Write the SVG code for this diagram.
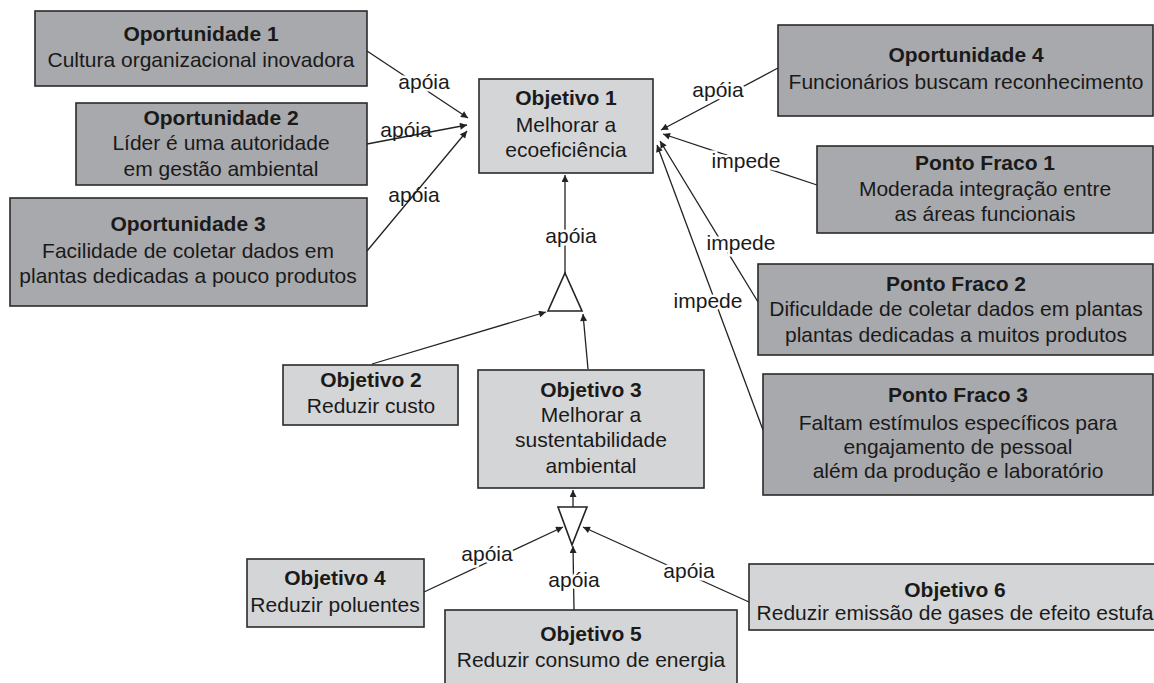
<svg xmlns="http://www.w3.org/2000/svg" width="1154" height="683" viewBox="0 0 1154 683">
<style>
.dk{fill:#a8a9ac;stroke:#2a2a2a;stroke-width:1.6}
.lt{fill:#d4d5d7;stroke:#2a2a2a;stroke-width:1.6}
text{font-family:"Liberation Sans",Arial,sans-serif;font-size:21px;fill:#1a1a1a;text-anchor:middle}
.b{font-weight:bold}
.c{stroke:#222;stroke-width:1.3;fill:none}
.lbl{stroke:#fff;stroke-width:5;paint-order:stroke}
.tri{fill:#fff;stroke:#222;stroke-width:1.6}
</style>
<defs>
<marker id="ah" viewBox="0 0 10 10" refX="10" refY="5" markerWidth="10" markerHeight="7" markerUnits="userSpaceOnUse" orient="auto">
<path d="M0,0 L10,5 L0,10 z" fill="#222"/>
</marker>
</defs>
<rect width="1154" height="683" fill="#fff"/>

<g id="connectors">
<line class="c" x1="367" y1="51" x2="468" y2="118" marker-end="url(#ah)"/>
<line class="c" x1="367" y1="144" x2="467" y2="125" marker-end="url(#ah)"/>
<line class="c" x1="367" y1="251" x2="467" y2="131" marker-end="url(#ah)"/>
<line class="c" x1="778" y1="68" x2="661" y2="130" marker-end="url(#ah)"/>
<line class="c" x1="817" y1="185" x2="663" y2="134" marker-end="url(#ah)"/>
<line class="c" x1="758" y1="302" x2="660" y2="141" marker-end="url(#ah)"/>
<line class="c" x1="763" y1="430" x2="657" y2="145" marker-end="url(#ah)"/>
<line class="c" x1="565" y1="273" x2="565" y2="175" marker-end="url(#ah)"/>
<line class="c" x1="372" y1="364" x2="546" y2="312" marker-end="url(#ah)"/>
<line class="c" x1="588" y1="369" x2="583" y2="314" marker-end="url(#ah)"/>
<line class="c" x1="573" y1="507" x2="573" y2="490" marker-end="url(#ah)"/>
<line class="c" x1="424" y1="592" x2="563" y2="527" marker-end="url(#ah)"/>
<line class="c" x1="574" y1="610" x2="573" y2="546" marker-end="url(#ah)"/>
<line class="c" x1="749" y1="602" x2="583" y2="527" marker-end="url(#ah)"/>
<text class="lbl" x="424" y="89">apóia</text>
<text x="406" y="137">apóia</text>
<text x="414" y="202">apóia</text>
<text class="lbl" x="718" y="97">apóia</text>
<text class="lbl" x="746" y="168">impede</text>
<text class="lbl" x="741" y="250">impede</text>
<text class="lbl" x="708" y="308">impede</text>
<text class="lbl" x="571" y="243">apóia</text>
<text class="lbl" x="487" y="561">apóia</text>
<text class="lbl" x="574" y="587">apóia</text>
<text class="lbl" x="689" y="578">apóia</text>
</g>

<g id="tri1"><polygon class="tri" points="565,273 582,311 548,311"/></g>
<g id="tri2"><polygon class="tri" points="558,507 587,507 572,545"/></g>

<g id="opp1"><rect class="dk" x="35" y="11" width="332" height="75"/>
<text class="b" x="201" y="41">Oportunidade 1</text>
<text x="201" y="67">Cultura organizacional inovadora</text></g>

<g id="opp2"><rect class="dk" x="76" y="103" width="291" height="82"/>
<text class="b" x="221" y="125">Oportunidade 2</text>
<text x="221" y="150">Líder é uma autoridade</text>
<text x="221" y="176">em gestão ambiental</text></g>

<g id="opp3"><rect class="dk" x="10" y="198" width="357" height="108"/>
<text class="b" x="188" y="231">Oportunidade 3</text>
<text x="188" y="258">Facilidade de coletar dados em</text>
<text x="188" y="283">plantas dedicadas a pouco produtos</text></g>

<g id="obj1"><rect class="lt" x="479" y="79" width="174" height="94"/>
<text class="b" x="566" y="105">Objetivo 1</text>
<text x="566" y="132">Melhorar a</text>
<text x="566" y="157">ecoeficiência</text></g>

<g id="opp4"><rect class="dk" x="778" y="25" width="375" height="91"/>
<text class="b" x="966" y="62">Oportunidade 4</text>
<text x="966" y="89">Funcionários buscam reconhecimento</text></g>

<g id="pf1"><rect class="dk" x="817" y="146" width="336" height="87"/>
<text class="b" x="985" y="170">Ponto Fraco 1</text>
<text x="985" y="196">Moderada integração entre</text>
<text x="985" y="221">as áreas funcionais</text></g>

<g id="pf2"><rect class="dk" x="758" y="264" width="395" height="91"/>
<text class="b" x="956" y="291">Ponto Fraco 2</text>
<text x="956" y="316">Dificuldade de coletar dados em plantas</text>
<text x="956" y="342">plantas dedicadas a muitos produtos</text></g>

<g id="pf3"><rect class="dk" x="763" y="374" width="390" height="121"/>
<text class="b" x="958" y="402">Ponto Fraco 3</text>
<text x="958" y="430">Faltam estímulos específicos para</text>
<text x="958" y="454">engajamento de pessoal</text>
<text x="958" y="478">além da produção e laboratório</text></g>

<g id="obj2"><rect class="lt" x="283" y="365" width="175" height="60"/>
<text class="b" x="371" y="387">Objetivo 2</text>
<text x="371" y="413">Reduzir custo</text></g>

<g id="obj3"><rect class="lt" x="478" y="370" width="226" height="118"/>
<text class="b" x="591" y="397">Objetivo 3</text>
<text x="591" y="422">Melhorar a</text>
<text x="591" y="447">sustentabilidade</text>
<text x="591" y="473">ambiental</text></g>

<g id="obj4"><rect class="lt" x="247" y="559" width="177" height="68"/>
<text class="b" x="335" y="585">Objetivo 4</text>
<text x="335" y="612">Reduzir poluentes</text></g>

<g id="obj5"><rect class="lt" x="445" y="610" width="292" height="80"/>
<text class="b" x="591" y="641">Objetivo 5</text>
<text x="591" y="667">Reduzir consumo de energia</text></g>

<g id="obj6"><rect class="lt" x="749" y="564" width="420" height="66"/>
<text class="b" x="955" y="597">Objetivo 6</text>
<text x="955" y="620">Reduzir emissão de gases de efeito estufa</text></g>
</svg>
